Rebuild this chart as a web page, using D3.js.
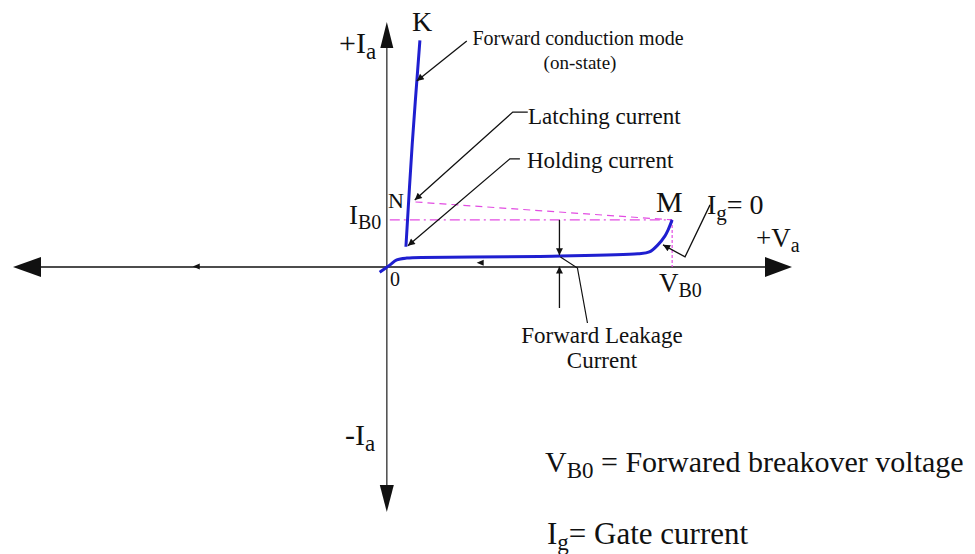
<!DOCTYPE html>
<html>
<head>
<meta charset="utf-8">
<script src="https://cdn.jsdelivr.net/npm/d3@7"></script>
<style>
  body { margin: 0; background: #fff; }
  text { font-family: "Liberation Serif", "Times New Roman", serif; fill: #111; }
</style>
</head>
<body>
<div id="chart"></div>
<script>
// V-I characteristic of an SCR (forward region), units: V in % of V_B0, I in tenths of I_B0
const blockV = [-2.5, 1, 3.5, 7, 30, 58, 88, 92, 95, 97.5, 98.6, 100]
const blockI = [-1.1, 0.4, 1.5, 1.9, 2.1, 2.3, 2.8, 3.2, 4.7, 6.6, 7.9, 10]
const onV = [6.7, 8.9, 11.6]
const onI = [4.3, 26, 48.1]
const vB0 = 100
const iB0 = 10
const latchN = [9, 13.8]
const leakV = 60.5

const width = 975, height = 554

const svg = d3.select("#chart")
  .append("svg")
    .attr("width", width)
    .attr("height", height)

const x = d3.scaleLinear().domain([-131, 142]).range([13, 792])
const y = d3.scaleLinear().domain([-52, 52]).range([512, 22])

const x0 = x(0), y0 = y(0)

// arrow marker for the annotation pointers
const defs = svg.append("defs")
defs.append("marker")
    .attr("id", "tip")
    .attr("viewBox", "0 0 10 10")
    .attr("refX", 10).attr("refY", 5)
    .attr("markerWidth", 10).attr("markerHeight", 7)
    .attr("markerUnits", "userSpaceOnUse")
    .attr("orient", "auto")
  .append("path")
    .attr("d", "M0,0L10,5L0,10Z")
    .attr("fill", "#111")

// axes
svg.append("line")
    .attr("x1", x(-131) + 26).attr("x2", x(142) - 26)
    .attr("y1", y0).attr("y2", y0)
    .attr("stroke", "#111").attr("stroke-width", 1.6)
svg.append("line")
    .attr("x1", x0).attr("x2", x0)
    .attr("y1", y(52) + 24).attr("y2", y(-52) - 26)
    .attr("stroke", "#555").attr("stroke-width", 1.6)

const heads = [
  [[x(-131), y0], [x(-131) + 28, y0 - 10], [x(-131) + 28, y0 + 10]],
  [[x(142), y0], [x(142) - 27, y0 - 10], [x(142) - 27, y0 + 10]],
  [[x0, y(52)], [x0 - 6.5, y(52) + 26], [x0 + 6.5, y(52) + 26]],
  [[x0, y(-52)], [x0 - 7, y(-52) - 27], [x0 + 7, y(-52) - 27]]
]
svg.selectAll("polygon.head")
  .data(heads)
  .join("polygon")
    .attr("class", "head")
    .attr("points", d => d.map(p => p.join(",")).join(" "))
    .attr("fill", "#111")

// small direction marks along the axis / curve
const smallHeads = [[31.5, 0.9], [-68, 0.1]]
svg.selectAll("polygon.small")
  .data(smallHeads)
  .join("polygon")
    .attr("class", "small")
    .attr("points", d => {
      const px = x(d[0]), py = y(d[1])
      return `${px},${py} ${px + 7},${py - 3} ${px + 7},${py + 3}`
    })
    .attr("fill", "#111")

// magenta construction lines
const pink = "#e24ce2"
svg.append("line")
    .attr("x1", x(latchN[0]) + 3).attr("y1", y(latchN[1]))
    .attr("x2", x(vB0)).attr("y2", y(iB0))
    .attr("stroke", pink).attr("stroke-width", 1.2)
    .attr("stroke-dasharray", "7,5")
svg.append("line")
    .attr("x1", x0 + 3).attr("y1", y(iB0))
    .attr("x2", x(vB0)).attr("y2", y(iB0))
    .attr("stroke", pink).attr("stroke-width", 1.2)
    .attr("stroke-dasharray", "10,4,2,4")
svg.append("line")
    .attr("x1", x(vB0)).attr("y1", y(iB0))
    .attr("x2", x(vB0)).attr("y2", y0)
    .attr("stroke", pink).attr("stroke-width", 1.2)
    .attr("stroke-dasharray", "3,2")

// characteristic curves
const line = d3.line()
    .x(d => x(d[0]))
    .y(d => y(d[1]))
    .curve(d3.curveCatmullRom.alpha(0.5))

svg.append("path")
    .datum(d3.zip(blockV, blockI))
    .attr("d", line)
    .attr("fill", "none")
    .attr("stroke", "#1f1fd0")
    .attr("stroke-width", 3)
svg.append("path")
    .datum(d3.zip(onV, onI))
    .attr("d", line)
    .attr("fill", "none")
    .attr("stroke", "#1f1fd0")
    .attr("stroke-width", 3)

// pointers: each is a polyline ending on a data point, offsets in px
const pointers = [
  {tip: [10.5, 39.5], pts: [[50, -40]]},
  {tip: [9.8, 14.2], pts: [[113, -88], [98, -88]]},
  {tip: [7.4, 4.5], pts: [[112, -87], [102, -87]]},
  {tip: [96.8, 4.7], pts: [[47, -40], [22, 12]]}
]
pointers.forEach(p => {
  const tx = x(p.tip[0]), ty = y(p.tip[1])
  const path = d3.path()
  p.pts.forEach((o, i) => i ? path.lineTo(tx + o[0], ty + o[1]) : path.moveTo(tx + o[0], ty + o[1]))
  path.lineTo(tx, ty)
  svg.append("path")
      .attr("d", path.toString())
      .attr("fill", "none")
      .attr("stroke", "#111")
      .attr("stroke-width", 1.3)
      .attr("marker-end", "url(#tip)")
})

// forward leakage current: two opposing arrows plus leader
svg.append("line")
    .attr("x1", x(leakV)).attr("x2", x(leakV))
    .attr("y1", y(iB0)).attr("y2", y(2.5))
    .attr("stroke", "#111").attr("stroke-width", 1.3)
    .attr("marker-end", "url(#tip)")
svg.append("line")
    .attr("x1", x(leakV)).attr("x2", x(leakV))
    .attr("y1", y(-8.7)).attr("y2", y(0.1))
    .attr("stroke", "#111").attr("stroke-width", 1.3)
    .attr("marker-end", "url(#tip)")
svg.append("path")
    .attr("d", `M${x(leakV) + 1},${y(2.1)} L${x(leakV) + 18},${y0 + 1} L${x(leakV) + 28},${y0 + 56}`)
    .attr("fill", "none")
    .attr("stroke", "#111").attr("stroke-width", 1.2)

// labels: [text, subscript, rest, x, y, size]
const labels = [
  ["+I", "a", "", 339, 53, 30],
  ["K", "", "", 412, 31, 28],
  ["N", "", "", 388, 208, 22],
  ["I", "B0", "", 349, 224, 27],
  ["M", "", "", 656, 212, 30],
  ["I", "g", "= 0", 707, 214, 28],
  ["+V", "a", "", 756, 247, 27],
  ["0", "", "", 390, 286, 20],
  ["V", "B0", "", 659, 292, 27],
  ["-I", "a", "", 345, 445, 30],
  ["V", "B0", " = Forwared breakover voltage", 545, 472, 30],
  ["I", "g", "= Gate current", 547, 544, 31]
]
labels.forEach(l => {
  const t = svg.append("text")
      .attr("x", l[3]).attr("y", l[4])
      .style("font-size", l[5] + "px")
  t.append("tspan").text(l[0])
  if (l[1]) {
    t.append("tspan")
        .attr("dy", l[5] * 0.2)
        .style("font-size", Math.round(l[5] * 0.75) + "px")
        .text(l[1])
  }
  if (l[2]) {
    t.append("tspan")
        .attr("dy", -l[5] * 0.2)
        .text(l[2])
  }
})

// annotation text
const notes = [
  ["Forward conduction mode", 578, 45, "middle", 20],
  ["(on-state)", 580, 69, "middle", 19],
  ["Latching current", 528, 124, "start", 23],
  ["Holding current", 527, 168, "start", 23],
  ["Forward Leakage", 602, 343, "middle", 23],
  ["Current", 602, 368, "middle", 23]
]
svg.selectAll("text.note")
  .data(notes)
  .join("text")
    .attr("class", "note")
    .attr("x", d => d[1])
    .attr("y", d => d[2])
    .attr("text-anchor", d => d[3])
    .style("font-size", d => d[4] + "px")
    .text(d => d[0])
</script>
</body>
</html>
